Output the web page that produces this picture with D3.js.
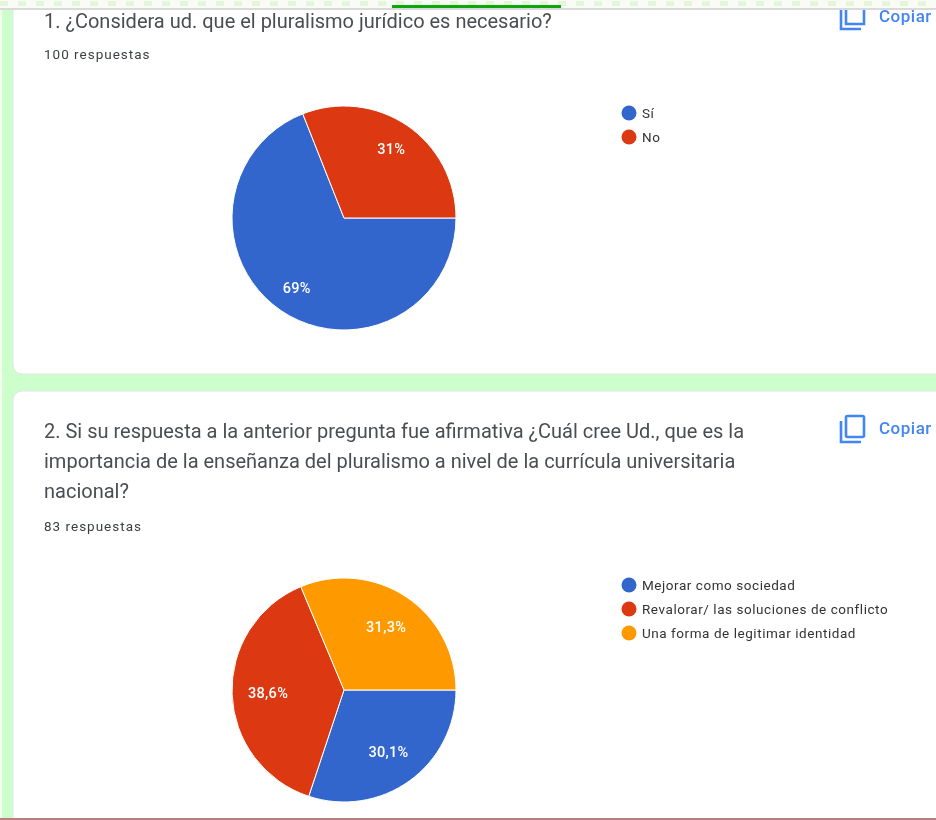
<!DOCTYPE html>
<html><head><meta charset="utf-8">
<script src="https://cdn.jsdelivr.net/npm/d3@7"></script>
<style>html,body{margin:0;padding:0;background:#fff;overflow:hidden}svg{display:block;filter:blur(0.45px)}</style>
</head><body><div id="c"></div>
<script>
const q1Title = ["1. ¿Considera ud. que el pluralismo jurídico es necesario?"];
const q1Count = "100 respuestas";
const q1Categories = ["Sí", "No"];
const q1Values = [69, 31];
const q2Title = [
  "2. Si su respuesta a la anterior pregunta fue afirmativa ¿Cuál cree Ud., que es la",
  "importancia de la enseñanza del pluralismo a nivel de la currícula universitaria",
  "nacional?"];
const q2Count = "83 respuestas";
const q2Categories = ["Mejorar como sociedad", "Revalorar/ las soluciones de conflicto", "Una forma de legitimar identidad"];
const q2Values = [30.1, 38.6, 31.3];
const colors = ["#3366cc", "#dc3912", "#ff9900"];

const W = 936, H = 820;
const svg = d3.select("#c").append("svg").attr("width", W).attr("height", H)
  .style("font-family", "Roboto, sans-serif");

// page frame
svg.append("rect").attr("width", W).attr("height", H).attr("fill", "#ccffcc");
svg.append("rect").attr("x", 0).attr("width", 2).attr("height", H).attr("fill", "#f2fbee");

// cards
svg.append("rect").attr("x", 13).attr("y", -20).attr("width", 960).attr("height", 394).attr("rx", 9)
  .attr("fill", "#fff").attr("stroke", "#e4e4e6");
svg.append("rect").attr("x", 13).attr("y", 391).attr("width", 960).attr("height", 470).attr("rx", 9)
  .attr("fill", "#fff").attr("stroke", "#e4e4e6");

// top chrome
svg.append("rect").attr("x", 0).attr("y", 0).attr("width", W).attr("height", 8).attr("fill", "#f8fcf4");
svg.append("g").selectAll("rect").data(d3.range(0, W, 18)).join("rect")
  .attr("x", d => d).attr("y", 1).attr("width", 8).attr("height", 5).attr("fill", "#e4f5da");
svg.append("rect").attr("x", 0).attr("y", 8).attr("width", W).attr("height", 2).attr("fill", "#d9d9d9");
svg.append("rect").attr("x", 392).attr("y", 5).attr("width", 169).attr("height", 3).attr("fill", "#0aa80a");
svg.append("rect").attr("x", 0).attr("y", 818).attr("width", W).attr("height", 2).attr("fill", "#b98080");

function copyIcon(x, y, clipTop, baseline) {
  const g = svg.append("g").attr("fill", "none").attr("stroke", "#4285f4").attr("stroke-width", 2.6);
  if (!clipTop) {
    g.append("rect").attr("x", x + 5).attr("y", y).attr("width", 18).attr("height", 21).attr("rx", 1.5);
  } else {
    g.append("path").attr("d", `M${x + 5} 10V${y + 21}H${x + 23}V10`);
  }
  g.append("path").attr("d", `M${x} ${clipTop ? 10 : y + 5}V${y + 26}H${x + 20}`);
  svg.append("text").attr("x", x + 38).attr("y", baseline).attr("font-size", 17).attr("font-weight", 500)
    .attr("letter-spacing", 0.5).attr("fill", "#4285f4").text("Copiar");
}

function question(o) {
  o.title.forEach((t, i) => svg.append("text").attr("x", 44).attr("y", o.titleY + i * 30)
    .attr("font-size", 20).attr("fill", "#4a4d52").text(t));
  svg.append("text").attr("x", 44).attr("y", o.countY).attr("font-size", 13.5)
    .attr("letter-spacing", 1).attr("fill", "#3c4043").text(o.count);

  const pie = d3.pie().sort(null).startAngle(Math.PI / 2).endAngle(Math.PI * 2.5);
  const arc = d3.arc().innerRadius(0).outerRadius(112);
  const labelArc = d3.arc().innerRadius(o.labelR).outerRadius(o.labelR);
  const g = svg.append("g").attr("transform", `translate(${o.cx},${o.cy})`);
  const arcs = pie(o.values);
  g.selectAll("path").data(arcs).join("path").attr("d", arc)
    .attr("fill", (d, i) => colors[i]).attr("stroke", "#fff").attr("stroke-width", 1);
  g.selectAll("text").data(arcs).join("text")
    .attr("transform", d => `translate(${labelArc.centroid(d)})`)
    .attr("text-anchor", "middle").attr("dy", "0.35em")
    .attr("font-size", 14.5).attr("font-weight", 500).attr("letter-spacing", 0.3).attr("fill", "#fff")
    .text(d => String(d.data).replace(".", ",") + "%");

  const lg = svg.append("g").attr("transform", `translate(629,${o.legendY})`);
  const row = lg.selectAll("g").data(o.categories).join("g").attr("transform", (d, i) => `translate(0,${i * 24})`);
  row.append("circle").attr("r", 7.5).attr("fill", (d, i) => colors[i]);
  row.append("text").attr("x", 13).attr("dy", "0.35em").attr("font-size", 13.5)
    .attr("letter-spacing", 0.55).attr("fill", "#333").text(d => d);
}

question({ title: q1Title, titleY: 28, count: q1Count, countY: 59, categories: q1Categories, values: q1Values,
  cx: 344, cy: 218, labelR: 84, legendY: 113 });
question({ title: q2Title, titleY: 438, count: q2Count, countY: 531, categories: q2Categories, values: q2Values,
  cx: 344, cy: 690, labelR: 76, legendY: 585 });
copyIcon(841, 3, true, 22);
copyIcon(841, 416, false, 434);
</script></body></html>
